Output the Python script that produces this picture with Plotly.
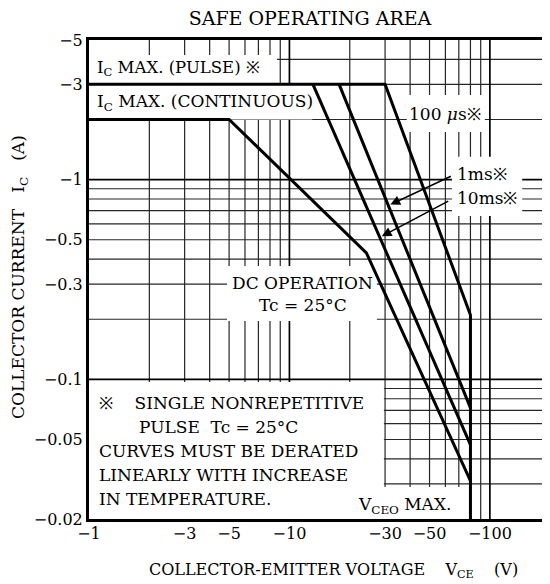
import math
import plotly.graph_objects as go

# ---------------- data (magnitudes; the device is PNP so labels are negative) -------------
ic_max_pulse = 3.0      # A
ic_max_cont = 2.0       # A
vceo_max = 80.0         # V

# 100 us single pulse (includes Ic max pulse plateau and Vceo max limit)
us100_v = [1, 30, 80, 80]
us100_i = [3.0, 3.0, 0.21, 0.02]
# 1 ms single pulse
ms1_v = [17.7, 80]
ms1_i = [3.0, 0.072]
# 10 ms single pulse
ms10_v = [13.1, 80]
ms10_i = [3.0, 0.047]
# DC operation (Ic max continuous plateau, power limit, S/B limit)
dc_v = [1, 5, 24.2, 80]
dc_i = [2.0, 2.0, 0.43, 0.031]

x_tick_vals = [1, 3, 5, 10, 30, 50, 100]
x_tick_text = ["−1", "−3", "−5", "−10", "−30", "−50", "−100"]
y_tick_vals = [5, 3, 1, 0.5, 0.3, 0.1, 0.05, 0.02]
y_tick_text = ["−5", "−3", "−1", "−0.5", "−0.3", "−0.1", "−0.05", "−0.02"]

X_MIN, X_MAX = 1.0, 10 ** 2.3
Y_MIN, Y_MAX = 0.02, 5.0

grid_x = [d * 10 ** e for e in range(0, 3) for d in range(1, 10) if X_MIN < d * 10 ** e < X_MAX]
grid_y = [d * 10 ** e for e in range(-2, 1) for d in range(1, 10) if Y_MIN < d * 10 ** e < Y_MAX]

# white panels behind the printed labels (x0, x1, y0, y1) in data units
mask_boxes = [
    (1, 8.67, 3.0, 4.21),        # Ic max (pulse)
    (1, 13.0, 2.0, 3.0),         # Ic max (continuous)
    (38.5, 94.4, 1.73, 2.65),    # 100 us
    (64.7, 145, 0.657, 1.30),    # 1 ms / 10 ms
    (4.88, 27.3, 0.196, 0.369),  # DC operation
    (1, 29.6, 0.02, 0.097),      # note
    (29, 79.4, 0.02, 0.0289),    # Vceo max
]

FONT = "DejaVu Serif"
W, H = 550, 584
OFF = 8                       # page body margin of the html page
PL, PT, PR, PB = 89, 40, 550, 519   # plot box on screen
PW, PH = PR - PL, PB - PT


def paper(px, py):
    return (px - PL) / PW, (PB - py) / PH


fig = go.Figure()


def grid_trace(vals, vertical, width, color):
    xs, ys = [], []
    for v in vals:
        if vertical:
            xs += [v, v, None]
            ys += [Y_MIN, Y_MAX, None]
        else:
            xs += [X_MIN, X_MAX, None]
            ys += [v, v, None]
    fig.add_trace(go.Scatter(x=xs, y=ys, mode="lines", line=dict(color=color, width=width),
                             hoverinfo="skip", showlegend=False))


decades = [1, 10, 100, 0.1]
grid_trace([v for v in grid_x if v not in decades], True, 1.2, "#262626")
grid_trace([v for v in grid_y if v not in decades], False, 1.2, "#262626")
grid_trace([v for v in grid_x if v in decades], True, 1.7, "#000")
grid_trace([v for v in grid_y if v in decades], False, 1.7, "#000")

for x0, x1, y0, y1 in mask_boxes:
    fig.add_trace(go.Scatter(x=[x0, x1, x1, x0, x0], y=[y0, y0, y1, y1, y0], mode="lines",
                             fill="toself", fillcolor="white", line=dict(width=0, color="white"),
                             hoverinfo="skip", showlegend=False))

for vs, cur in [(us100_v, us100_i), (ms1_v, ms1_i), (ms10_v, ms10_i), (dc_v, dc_i)]:
    fig.add_trace(go.Scatter(x=vs, y=cur, mode="lines", line=dict(color="black", width=3),
                             hoverinfo="skip", showlegend=False))


def point_on(vs, cur, y):
    lx = [math.log10(v) for v in vs]
    ly = [math.log10(i) for i in cur]
    t = math.log10(y)
    for k in range(len(lx) - 1):
        if min(ly[k], ly[k + 1]) <= t <= max(ly[k], ly[k + 1]) and ly[k] != ly[k + 1]:
            f = (t - ly[k]) / (ly[k + 1] - ly[k])
            return lx[k] + f * (lx[k + 1] - lx[k]), t
    return lx[0], t


ann = []


def text(px, py, s, size=17, xanchor="left"):
    x, y = paper(px, py)
    ann.append(dict(x=x, y=y, xref="paper", yref="paper", text=s, showarrow=False,
                    xanchor=xanchor, yanchor="middle", font=dict(family=FONT, size=size, color="black")))


text(95, 69, "I<sub>C</sub> MAX. (PULSE) ※", size=16.5)
text(95, 103, "I<sub>C</sub> MAX. (CONTINUOUS)")
text(407, 114, "100 <i>μ</i>s※")
text(455, 174, "1ms※")
text(455, 198, "10ms※")
text(302, 283, "DC OPERATION", xanchor="center")
text(303, 305, "Tc = 25°C", xanchor="center")
text(97, 403, "※\u00a0\u00a0\u00a0\u00a0SINGLE NONREPETITIVE")
text(137, 427, "PULSE\u00a0\u00a0Tc = 25°C")
text(97, 451, "CURVES MUST BE DERATED")
text(97, 475, "LINEARLY WITH INCREASE")
text(97, 499, "IN TEMPERATURE.")
text(356, 505, "V<sub>CEO</sub> MAX.")

# arrows to 1 ms and 10 ms curves
for vs, cur, yval, ax, ay in [(ms1_v, ms1_i, 0.75, 62, -29), (ms10_v, ms10_i, 0.52, 68, -36)]:
    lx, ly = point_on(vs, cur, yval)
    ann.append(dict(x=lx + 0.012, y=ly, xref="x", yref="y", ax=ax, ay=ay, text="", showarrow=True,
                    arrowhead=2, arrowsize=1.3, arrowwidth=1.5, arrowcolor="black"))

# axis titles
yt_x, yt_y = paper(19, 277)
ann.append(dict(x=yt_x, y=yt_y, xref="paper", yref="paper", textangle=-90, showarrow=False,
                text="COLLECTOR CURRENT\u00a0\u00a0\u00a0I<sub>C</sub>\u00a0\u00a0\u00a0(A)",
                font=dict(family=FONT, size=17, color="black"), xanchor="center", yanchor="middle"))
xt_x, xt_y = paper(333, 570)
ann.append(dict(x=xt_x, y=xt_y, xref="paper", yref="paper", showarrow=False,
                text="COLLECTOR-EMITTER VOLTAGE\u00a0\u00a0\u00a0\u00a0V<sub>CE</sub>\u00a0\u00a0\u00a0\u00a0(V)",
                font=dict(family=FONT, size=16, color="black"), xanchor="center", yanchor="middle"))

fig.update_layout(
    width=W, height=H,
    margin=dict(l=PL - OFF, r=W - (PR - OFF), t=PT - OFF, b=H - (PB - OFF)),
    paper_bgcolor="white", plot_bgcolor="white",
    title=dict(text="SAFE OPERATING AREA", x=(310 - OFF) / W, xanchor="center",
               y=1 - (18 - OFF) / H, yanchor="middle",
               font=dict(family=FONT, size=19, color="black")),
    annotations=ann,
    showlegend=False,
    xaxis=dict(type="log", range=[math.log10(X_MIN), math.log10(X_MAX)], showgrid=False, zeroline=False,
               tickvals=x_tick_vals, ticktext=x_tick_text, ticks="", ticklabelstandoff=-2,
               tickfont=dict(family=FONT, size=16, color="black"),
               showline=True, linecolor="black", linewidth=3, mirror=True, layer="above traces"),
    yaxis=dict(type="log", range=[math.log10(Y_MIN), math.log10(Y_MAX)], showgrid=False, zeroline=False,
               tickvals=y_tick_vals, ticktext=y_tick_text, ticks="", ticklabelstandoff=0,
               tickfont=dict(family=FONT, size=16, color="black"),
               showline=True, linecolor="black", linewidth=3, mirror=False, layer="above traces"),
)

fig.write_html("out.html")
